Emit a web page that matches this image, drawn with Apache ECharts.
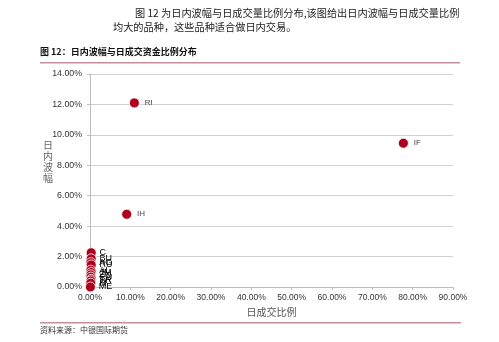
<!DOCTYPE html>
<html><head><meta charset="utf-8">
<script src="https://cdn.jsdelivr.net/npm/echarts@6/dist/echarts.min.js"></script>
<style>html,body{margin:0;padding:0;background:#fff}#c{width:499px;height:342px}</style>
</head><body><div id="c"></div>
<script>
const names = ['RI','IF','IH','C','BU','AG','RU','AL','JM','ZN','CU','TA','SR','M','ME'];
const xVals = [11.0, 77.7, 9.1, 0.3, 0.3, 0.2, 0.3, 0.2, 0.3, 0.2, 0.2, 0.3, 0.2, 0.2, 0.1];
const yVals = [12.1, 9.45, 4.78, 2.25, 1.85, 1.6, 1.45, 1.1, 0.95, 0.8, 0.65, 0.5, 0.4, 0.25, 0.0];
const xTicks = [0,10,20,30,40,50,60,70,80,90];
const yTicks = [0,2,4,6,8,10,12,14];

const chart = echarts.init(document.getElementById('c'));
const data = names.map((n,i)=>({
  value:[xVals[i], yVals[i]], name:n,
  label:{show:true, position:'right', formatter:n,
    fontSize: i<3 ? 8 : 9, color: i<3 ? '#444' : '#000', distance: i<3 ? 5 : 3,
    fontFamily: 'Liberation Sans'}
}));
const serif = '"Noto Sans CJK SC"';
chart.setOption({
  animation:false,
  grid:{left:90, right:46, top:74, bottom:55},
  xAxis:{type:'value', min:0, max:90, interval:10,
    axisLine:{show:true, lineStyle:{color:'#bdbdbd'}},
    axisTick:{show:true, length:3, lineStyle:{color:'#bdbdbd'}},
    splitLine:{show:false},
    axisLabel:{fontSize:8.5, color:'#333', margin:6, formatter:v=>v.toFixed(2)+'%'},
    name:'日成交比例', nameLocation:'middle', nameGap:16,
    nameTextStyle:{fontSize:10, color:'#555', fontFamily:serif}
  },
  yAxis:{type:'value', min:0, max:14, interval:2,
    axisLine:{show:true, lineStyle:{color:'#bdbdbd'}},
    axisTick:{show:true, length:3, inside:false, lineStyle:{color:'#bdbdbd'}},
    splitLine:{show:true, lineStyle:{color:'#d0d0d0'}},
    axisLabel:{fontSize:8.8, color:'#333', margin:8, formatter:v=>v.toFixed(2)+'%'}
  },
  series:[{type:'scatter', symbolSize:10, data:data,
    itemStyle:{color:'#ac001c', opacity:1, borderColor:'#fff', borderWidth:0.8},
    labelLayout:{hideOverlap:false}
  }],
  graphic:[
    {type:'text', left:135, top:8, style:{text:'图 12 为日内波幅与日成交量比例分布,该图给出日内波幅与日成交量比例', fontSize:10.2, fill:'#222', fontFamily:serif}},
    {type:'text', left:113, top:22, style:{text:'均大的品种，这些品种适合做日内交易。', fontSize:10.2, fill:'#222', fontFamily:serif}},
    {type:'text', left:40, top:47, style:{text:'图 12：日内波幅与日成交资金比例分布', fontSize:9, fontWeight:'bold', fill:'#111', fontFamily:serif}},
    {type:'rect', shape:{x:40, y:62, width:420, height:1.5}, style:{fill:'#c4909b'}},
    {type:'text', left:43, top:140, style:{text:'日\n内\n波\n幅', fontSize:10, lineHeight:11, fill:'#666', fontFamily:serif}},
    {type:'rect', shape:{x:40, y:322, width:421, height:1.5}, style:{fill:'#c4909b'}},
    {type:'text', left:40, top:326, style:{text:'资料来源：中银国际期货', fontSize:8, fill:'#333', fontFamily:serif}}
  ]
});
</script></body></html>
